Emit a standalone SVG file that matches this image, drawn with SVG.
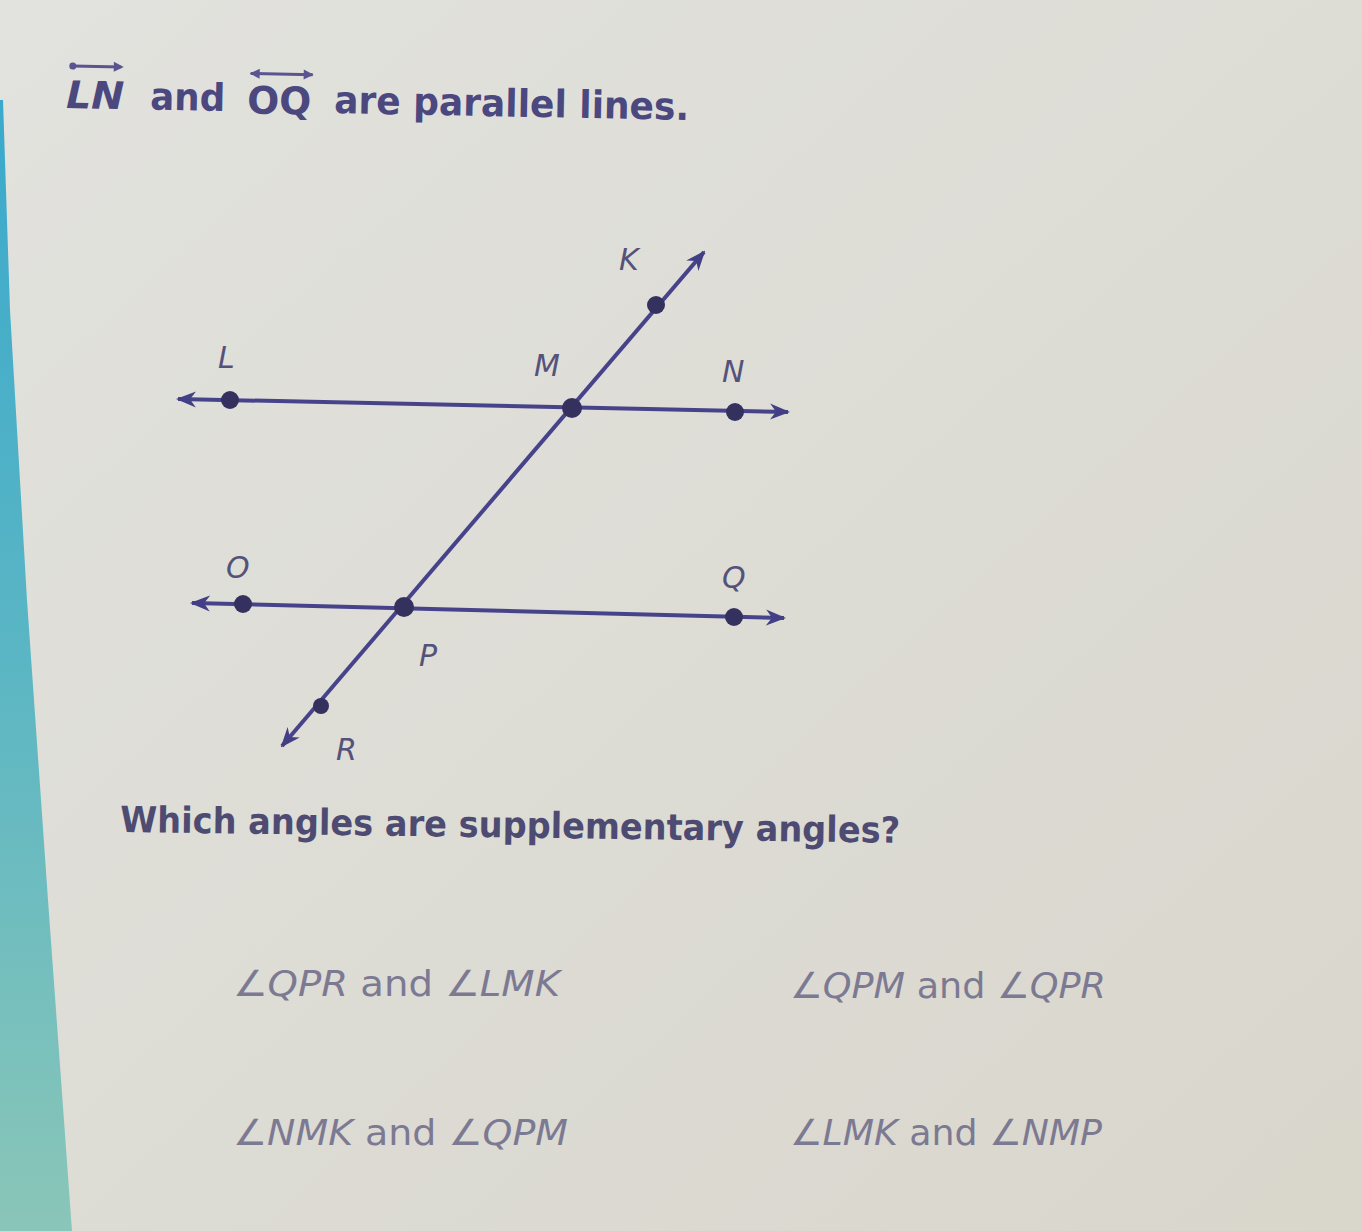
<svg xmlns="http://www.w3.org/2000/svg" width="1362" height="1231" viewBox="0 0 1362 1231">
<defs>
<linearGradient id="bg" x1="0" y1="0" x2="1" y2="1">
<stop offset="0" stop-color="#e2e2de"/>
<stop offset="0.5" stop-color="#dddcd5"/>
<stop offset="1" stop-color="#d9d6cc"/>
</linearGradient>
<linearGradient id="strip" x1="0" y1="0" x2="0" y2="1">
<stop offset="0" stop-color="#3aa9cc"/>
<stop offset="0.5" stop-color="#5bb6c4"/>
<stop offset="1" stop-color="#8ac6b8"/>
</linearGradient>
<marker id="ah2" viewBox="0 0 10 10" refX="9" refY="5" markerWidth="20" markerHeight="20" orient="auto-start-reverse" markerUnits="userSpaceOnUse">
<path d="M0,1 L10,5 L0,9 L3,5 z" fill="#433f85"/>
</marker>
</defs>
<style>
.ln{stroke:#47438a;stroke-width:4;fill:none}
.dot{fill:#35315f}
.lbl{font-family:"DejaVu Sans",Verdana,sans-serif;font-style:italic;font-size:30px;fill:#55527a}
.title{font-family:"DejaVu Sans",Verdana,sans-serif;font-weight:bold;font-size:38px;fill:#4b4880}
.q{font-family:"DejaVu Sans",Verdana,sans-serif;font-weight:bold;font-size:36px;fill:#4e4b72}
.ans{font-family:"DejaVu Sans",Verdana,sans-serif;font-size:36px;fill:#7c7a92}
.it{font-style:italic}
.ov{stroke:#5a5490;stroke-width:3}
</style>
<rect width="1362" height="1231" fill="url(#bg)"/>
<path d="M0,100 L3,100 L10,310 L27,600 L48,900 L72,1231 L0,1231 z" fill="url(#strip)"/>

<g id="title" transform="rotate(1.1 68 108)">
<text class="title it" x="66" y="108" textLength="58" lengthAdjust="spacingAndGlyphs">LN</text>
<line class="ov" x1="72" y1="66" x2="120" y2="66"/>
<circle cx="72" cy="66" r="3.5" fill="#5a5490"/>
<path d="M113,61 L123,66 L113,71" fill="#5a5490"/>
<text class="title" x="150" y="108" textLength="75" lengthAdjust="spacingAndGlyphs">and</text>
<text class="title" x="247" y="110" textLength="64" lengthAdjust="spacingAndGlyphs">OQ</text>
<line class="ov" x1="250" y1="70" x2="312" y2="70"/>
<path d="M259,65 L249,70 L259,75" fill="#5a5490"/>
<path d="M303,65 L313,70 L303,75" fill="#5a5490"/>
<text class="title" x="334" y="108" textLength="355" lengthAdjust="spacingAndGlyphs">are parallel lines.</text>
</g>

<g id="connectors">
<line class="ln" x1="178" y1="399" x2="788" y2="412" marker-start="url(#ah2)" marker-end="url(#ah2)"/>
<line class="ln" x1="192" y1="603" x2="784" y2="618" marker-start="url(#ah2)" marker-end="url(#ah2)"/>
<line class="ln" x1="282" y1="746" x2="704" y2="252" marker-start="url(#ah2)" marker-end="url(#ah2)"/>
</g>

<g id="node-L"><circle class="dot" cx="230" cy="400" r="9"/><text class="lbl" x="218" y="368">L</text></g>
<g id="node-M"><circle class="dot" cx="572" cy="408" r="10"/><text class="lbl" x="534" y="376">M</text></g>
<g id="node-N"><circle class="dot" cx="735" cy="412" r="9"/><text class="lbl" x="722" y="382">N</text></g>
<g id="node-K"><circle class="dot" cx="656" cy="305" r="9"/><text class="lbl" x="619" y="270">K</text></g>
<g id="node-O"><circle class="dot" cx="243" cy="604" r="9"/><text class="lbl" x="226" y="578">O</text></g>
<g id="node-P"><circle class="dot" cx="404" cy="607" r="10"/><text class="lbl" x="419" y="666">P</text></g>
<g id="node-Q"><circle class="dot" cx="734" cy="617" r="9"/><text class="lbl" x="722" y="588">Q</text></g>
<g id="node-R"><circle class="dot" cx="321" cy="706" r="8"/><text class="lbl" x="336" y="760">R</text></g>

<g id="question" transform="rotate(0.8 120 832)">
<text class="q" x="120" y="832" textLength="780" lengthAdjust="spacingAndGlyphs">Which angles are supplementary angles?</text>
</g>

<g id="answers">
<text class="ans" x="233" y="996" textLength="327" lengthAdjust="spacingAndGlyphs">∠<tspan class="it">QPR</tspan> and ∠<tspan class="it">LMK</tspan></text>
<text class="ans" x="790" y="998" textLength="316" lengthAdjust="spacingAndGlyphs">∠<tspan class="it">QPM</tspan> and ∠<tspan class="it">QPR</tspan></text>
<text class="ans" x="233" y="1145" textLength="335" lengthAdjust="spacingAndGlyphs">∠<tspan class="it">NMK</tspan> and ∠<tspan class="it">QPM</tspan></text>
<text class="ans" x="790" y="1145" textLength="312" lengthAdjust="spacingAndGlyphs">∠<tspan class="it">LMK</tspan> and ∠<tspan class="it">NMP</tspan></text>
</g>
</svg>
